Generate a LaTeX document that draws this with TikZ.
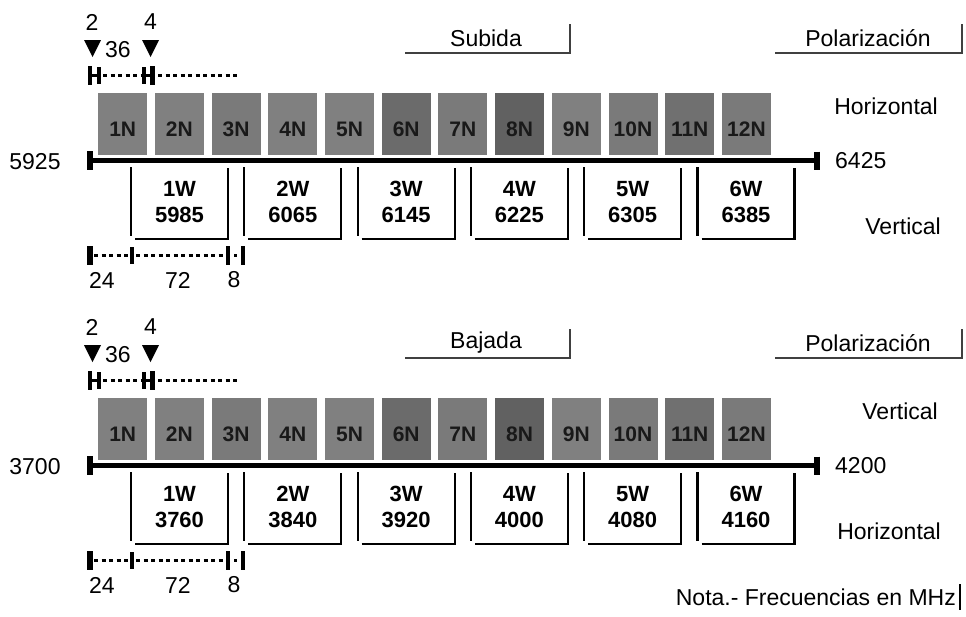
\documentclass[tikz,border=0pt]{standalone}
\usepackage{fontspec}
\setmainfont{Liberation Sans}
\tikzset{
  txt/.style={inner sep=0pt, font=\fontsize{23}{26}\selectfont},
  nlab/.style={inner sep=0pt, font=\fontsize{21}{24}\selectfont\bfseries, text=black!90},
  wlab/.style={inner sep=0pt, font=\fontsize{22}{25}\selectfont\bfseries},
  nbox/.style={fill=black!50, draw=none, minimum width=49pt, minimum height=62pt, inner sep=0pt, anchor=north west},
  wline/.style={line width=2.2pt},
  hdr/.style={line width=1.3pt, draw=black!75},
  band/.style={line width=5pt},
  capbar/.style={line width=6pt},
  tickbar/.style={line width=4.5pt},
  thinbar/.style={line width=4pt},
  dotline/.style={line width=3.5pt, dash pattern=on 4pt off 3.5pt},
  tri/.style={fill=black, draw=none}
}
\newcommand\bandsec[8]{%
\begin{scope}[shift={(0,#2)}]
  % header
  \node[txt] (#1hdr) at (486,38) {#3};
  \coordinate (#1ha) at (405,53); \coordinate (#1hb) at (570,53); \coordinate (#1hc) at (570,24);
  \draw[hdr] (#1ha) -- (#1hb) -- (#1hc);
  \node[txt] (#1pol) at (868,38) {Polarización};
  \coordinate (#1pa) at (775,53); \coordinate (#1pb) at (962,53); \coordinate (#1pc) at (962,24);
  \draw[hdr] (#1pa) -- (#1pb) -- (#1pc);
  % top scale
  \node[txt] (#1two) at (92,22) {2};
  \node[txt] (#1four) at (150.5,22) {4};
  \node[txt] (#1tsix) at (118,50) {36};
  \fill[tri] (84,40) -- (101,40) -- (92.5,57) -- cycle;
  \fill[tri] (142,40) -- (159,40) -- (150.5,57) -- cycle;
  \draw[tickbar] (90,66) -- (90,85);
  \draw[thinbar] (99,67) -- (99,84);
  \draw[line width=3.5pt] (90,75.5) -- (99,75.5);
  \draw[dotline] (103,75.5) -- (142,75.5);
  \draw[thinbar] (144,67) -- (144,84);
  \draw[tickbar] (152.5,66) -- (152.5,85);
  \draw[line width=3.5pt] (144,75.5) -- (152.5,75.5);
  \draw[dotline] (158,75.5) -- (238,75.5);
  % N channels
  \foreach \i/\g in {1/50,2/50,3/52,4/50,5/50,6/58,7/52,8/62,9/50,10/52,11/56,12/52} {
    \node[nbox, fill=black!\g] (#1n\i) at ({98+56.7*(\i-1)},93) {};
    \node[nlab] (#1nl\i) at ([yshift=-5pt]#1n\i.center) {\i N};
  }
  % main band line
  \coordinate (#1L) at (89.5,160.5); \coordinate (#1R) at (816.5,160.5);
  \draw[band] (#1L) -- (#1R);
  \draw[capbar] ([yshift=9.5pt]#1L) -- ([yshift=-9.5pt]#1L);
  \draw[capbar] ([yshift=9pt]#1R) -- ([yshift=-9pt]#1R);
  \node[txt] (#1lf) at (35,162) {#6};
  \node[txt, anchor=west] (#1rf) at (835,161) {#7};
  \node[txt, anchor=east] (#1up) at (938,106) {#4};
  \node[txt, anchor=east] (#1lo) at (941,226) {#5};
  % W channels
  \foreach \f [count=\j from 0] in {#8} {
    \pgfmathsetmacro\xl{131+113.3*\j}
    \pgfmathsetmacro\xr{\xl+97}
    \draw[wline] (\xl,167) -- (\xl,236);
    \draw[wline] (\xl+4,239) -- (\xr,239) -- (\xr,168);
    \pgfmathtruncatemacro\k{\j+1}
    \node[wlab] (#1wa\j) at (\xl+48.5,189) {\k W};
    \node[wlab] (#1wb\j) at (\xl+48.5,215) {\f};
  }
  % bottom scale
  \draw[capbar] (89.5,246) -- (89.5,265);
  \draw[dotline] (94,255.5) -- (130,255.5);
  \draw[thinbar] (132,247) -- (132,264);
  \draw[dotline] (136,255.5) -- (225,255.5);
  \draw[tickbar] (228,246) -- (228,265);
  \draw[line width=3.5pt] (234,255.5) -- (237,255.5);
  \draw[tickbar] (243,246) -- (243,265);
  \node[txt] (#1s24) at (102,280) {24};
  \node[txt] (#1s72) at (178,280) {72};
  \node[txt] (#1s8) at (234,280) {8};
\end{scope}}
\begin{document}
\begin{tikzpicture}[x=1pt,y=-1pt]
  \useasboundingbox[fill=white] (0,0) rectangle (966,616);
  \bandsec{a}{0}{Subida}{Horizontal}{Vertical}{5925}{6425}{5985,6065,6145,6225,6305,6385}
  \bandsec{b}{305}{Bajada}{Vertical}{Horizontal}{3700}{4200}{3760,3840,3920,4000,4080,4160}
  \node[txt, anchor=east] (nota) at (956,597) {Nota.- Frecuencias en MHz};
  \coordinate (nb1) at (960,584); \coordinate (nb2) at (960,610);
  \draw[line width=1.3pt] (nb1) -- (nb2);
\end{tikzpicture}
\end{document}
